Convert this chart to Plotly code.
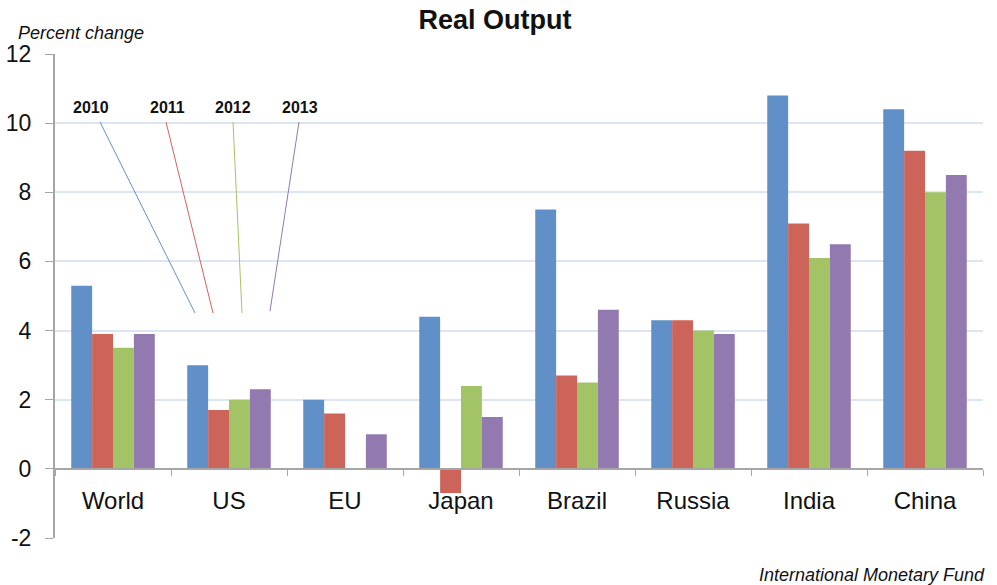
import plotly.graph_objects as go

# data
regions = ["World", "US", "EU", "Japan", "Brazil", "Russia", "India", "China"]
years = ["2010", "2011", "2012", "2013"]
y2010 = [5.3, 3.0, 2.0, 4.4, 7.5, 4.3, 10.8, 10.4]
y2011 = [3.9, 1.7, 1.6, -0.7, 2.7, 4.3, 7.1, 9.2]
y2012 = [3.5, 2.0, None, 2.4, 2.5, 4.0, 6.1, 8.0]
y2013 = [3.9, 2.3, 1.0, 1.5, 4.6, 3.9, 6.5, 8.5]
y_ticks = [-2, 0, 2, 4, 6, 8, 10, 12]
y_labels = ["-2", "0", "2", "4", "6", "8", "10", "12"]

colors = ["#6190C9", "#CD6459", "#A3C466", "#9279B0"]
FONT = "Liberation Sans, Arial, sans-serif"

# plot area in pixels (for placing the leader lines)
L, R, T, B = 55, 983, 54, 538


def px(x):
    return (x - L) / (R - L)


def py(y):
    return (B - y) / (B - T)


fig = go.Figure()
for name, vals, col in zip(years, [y2010, y2011, y2012, y2013], colors):
    fig.add_trace(go.Bar(x=regions, y=vals, name=name, marker_color=col,
                         marker_line_width=0, showlegend=False))

fig.update_layout(
    width=997, height=585,
    margin=dict(l=L, r=997 - R, t=T, b=585 - B),
    plot_bgcolor="white", paper_bgcolor="white",
    barmode="group", bargap=0.28, bargroupgap=0,
    font=dict(family=FONT, color="#111111"),
    title=dict(text="<b>Real Output</b>", x=495 / 997, xanchor="center",
               y=1 - 20 / 585, yanchor="middle", font=dict(size=27, color="#111111")),
)

fig.update_yaxes(
    range=[-2, 12], tickvals=y_ticks, ticktext=y_labels, showgrid=True,
    gridcolor="#DCE6F2", gridwidth=1.5, automargin=False,
    showline=True, linecolor="#A6A6A6", linewidth=2, ticks="outside", ticklen=8,
    tickcolor="#A6A6A6", tickfont=dict(size=23), ticklabelstandoff=9, zeroline=False,
)
fig.update_xaxes(
    anchor="free", position=2 / 14, showline=True, linecolor="#A6A6A6", linewidth=2,
    ticks="outside", tickson="boundaries", ticklen=6, tickcolor="#A6A6A6",
    tickfont=dict(size=24), ticklabelstandoff=10, showgrid=False, automargin=False,
)

# legend labels with leader lines
label_x = [91, 167, 233, 300]
line_top = [(100, 122), (166, 122), (233, 122), (299, 122)]
line_bot = [(195, 313), (213, 313), (242, 313), (270, 311)]
for name, lx, (x0, y0), (x1, y1), col in zip(years, label_x, line_top, line_bot, colors):
    fig.add_annotation(text="<b>" + name + "</b>", xref="paper", yref="paper",
                       x=px(lx), y=py(108), xanchor="center", yanchor="middle",
                       showarrow=False, font=dict(size=16, color="#111111"))
    fig.add_shape(type="line", xref="paper", yref="paper",
                  x0=px(x0), y0=py(y0), x1=px(x1), y1=py(y1),
                  line=dict(color=col, width=1))

fig.add_annotation(text="<i>Percent change</i>", xref="paper", yref="paper",
                   x=px(16), y=py(33), xanchor="left", yanchor="middle",
                   showarrow=False, font=dict(size=18))
fig.add_annotation(text="<i>International Monetary Fund</i>", xref="paper", yref="paper",
                   x=px(987), y=py(575), xanchor="right", yanchor="middle",
                   showarrow=False, font=dict(size=18))

# drop the browser's default page margin so the figure sits at 0,0
fig.write_html("out.html", config={"displayModeBar": False},
               post_script="document.body.style.margin='0';")
